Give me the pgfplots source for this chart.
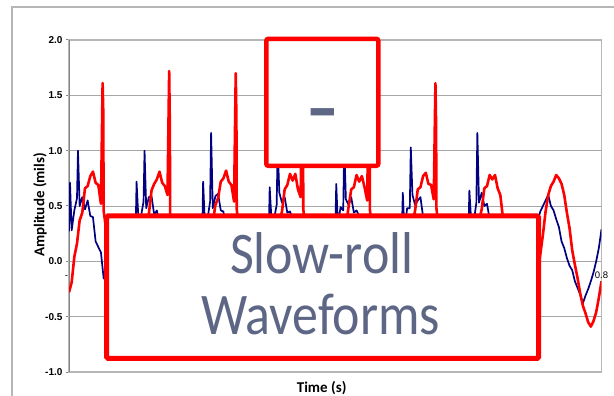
\documentclass[border=0pt]{standalone}
\usepackage{fontspec}
\setmainfont{Carlito}
\newfontfamily\tickfont{Liberation Sans}
\usepackage{pgfplots}
\pgfplotsset{compat=1.18}

\definecolor{wavered}{RGB}{255,0,0}
\definecolor{wavenavy}{RGB}{0,0,128}
\definecolor{calloutred}{RGB}{255,0,0}
\definecolor{slate}{RGB}{93,103,133}
\definecolor{gridgray}{RGB}{166,166,166}
\definecolor{framegray}{RGB}{182,182,182}
\definecolor{axisgray}{RGB}{134,134,134}

\begin{document}
\begin{tikzpicture}
\path[use as bounding box] (0bp,0bp) rectangle (614bp,396bp);
% outer chart frame (runs off the right and bottom edges)
\draw[framegray, line width=1.5bp] (12bp,-5bp) -- (12bp,389bp) -- (620bp,389bp);

\begin{axis}[
  at={(69bp,24bp)}, anchor=south west,
  scale only axis, width=532.5bp, height=332bp,
  xmin=0, xmax=0.8, ymin=-1, ymax=2,
  axis line style={framegray, line width=1.5bp},
  ymajorgrids, grid style={gridgray, line width=0.9bp},
  ytick={-1,-0.5,0,0.5,1,1.5,2},
  yticklabel style={font=\tickfont\bfseries\fontsize{10bp}{12bp}\selectfont,
    /pgf/number format/.cd, fixed, fixed zerofill, precision=1, assume math mode=true},
  xtick={0,0.8}, xticklabels={{-\hspace*{5bp}},{0.8}},
  xticklabel style={font=\tickfont\fontsize{9.5bp}{11bp}\selectfont, anchor=base, yshift=96.5bp},
  xtick style={draw=none},
  ytick style={axisgray, line width=1bp},
  tick align=outside, major tick length=3bp, ytick pos=left,
  xlabel={Time (s)}, ylabel={Amplitude (mils)},
  xlabel style={at={(axis description cs:0.4745,-0.048)}, anchor=center,
    font=\bfseries\fontsize{15bp}{15bp}\selectfont},
  ylabel style={at={(axis description cs:-0.0545,0.503)}, anchor=center,
    font=\bfseries\fontsize{15bp}{15bp}\selectfont},
]
% darker vertical axis line
\draw[axisgray, line width=1.3bp] (axis cs:0,-1) -- (axis cs:0,2);

% probe 1 (navy)
\addplot[wavenavy, line width=1.7bp, line join=round, mark=none] coordinates {
(0.000,0.27) (0.0015,0.71) (0.004,0.28) (0.008,0.46) (0.012,0.57) (0.0135,1.00) (0.016,0.50) (0.020,0.58) (0.024,0.47) (0.028,0.55) (0.032,0.41) (0.036,0.40) (0.040,0.18) (0.044,0.13) (0.048,0.08) (0.052,-0.15) (0.056,-0.18) (0.060,-0.36) (0.064,-0.33) (0.068,-0.33) (0.072,-0.46) (0.076,-0.32) (0.080,-0.31) (0.084,-0.16) (0.088,-0.16) (0.092,0.02) (0.096,0.07)
(0.100,0.24) (0.1015,0.72) (0.104,0.42) (0.108,0.40) (0.112,0.54) (0.1135,1.00) (0.116,0.48) (0.120,0.58) (0.124,0.59) (0.128,0.42) (0.132,0.46) (0.136,0.33) (0.140,0.29) (0.144,0.08) (0.148,0.02) (0.152,-0.17) (0.156,-0.18) (0.160,-0.36) (0.164,-0.32) (0.168,-0.31) (0.172,-0.42) (0.176,-0.33) (0.180,-0.37) (0.184,-0.17) (0.188,-0.14) (0.192,0.06) (0.196,0.07)
(0.200,0.19) (0.2015,0.72) (0.204,0.36) (0.208,0.38) (0.212,0.54) (0.2135,1.16) (0.216,0.48) (0.220,0.59) (0.224,0.61) (0.228,0.46) (0.232,0.45) (0.236,0.27) (0.240,0.28) (0.244,0.10) (0.248,0.06) (0.252,-0.17) (0.256,-0.21) (0.260,-0.22) (0.264,-0.38) (0.268,-0.34) (0.272,-0.44) (0.276,-0.33) (0.280,-0.25) (0.284,-0.30) (0.288,-0.09) (0.292,-0.01) (0.296,0.18)
(0.300,0.21) (0.3015,0.67) (0.304,0.40) (0.308,0.38) (0.312,0.51) (0.3135,1.05) (0.316,0.62) (0.320,0.53) (0.324,0.58) (0.328,0.44) (0.332,0.45) (0.336,0.39) (0.340,0.15) (0.344,0.15) (0.348,-0.01) (0.352,-0.06) (0.356,-0.26) (0.360,-0.28) (0.364,-0.40) (0.368,-0.34) (0.372,-0.44) (0.376,-0.32) (0.380,-0.23) (0.384,-0.26) (0.388,-0.10) (0.392,-0.07) (0.396,0.17)
(0.400,0.26) (0.4015,0.70) (0.404,0.33) (0.408,0.49) (0.412,0.46) (0.4135,1.05) (0.416,0.56) (0.420,0.51) (0.424,0.58) (0.428,0.44) (0.432,0.46) (0.436,0.41) (0.440,0.19) (0.444,0.14) (0.448,-0.07) (0.452,-0.07) (0.456,-0.24) (0.460,-0.24) (0.464,-0.40) (0.468,-0.37) (0.472,-0.30) (0.476,-0.38) (0.480,-0.26) (0.484,-0.28) (0.488,-0.10) (0.492,0.05) (0.496,0.04)
(0.500,0.25) (0.5015,0.62) (0.504,0.27) (0.508,0.48) (0.512,0.48) (0.5135,1.03) (0.516,0.60) (0.520,0.51) (0.524,0.55) (0.528,0.58) (0.532,0.40) (0.536,0.38) (0.540,0.17) (0.544,0.14) (0.548,0.05) (0.552,-0.20) (0.556,-0.19) (0.560,-0.31) (0.564,-0.29) (0.568,-0.42) (0.572,-0.36) (0.576,-0.40) (0.580,-0.26) (0.584,-0.28) (0.588,-0.09) (0.592,0.07) (0.596,0.08)
(0.600,0.25) (0.6015,0.64) (0.604,0.39) (0.608,0.35) (0.612,0.53) (0.6135,1.16) (0.616,0.53) (0.620,0.62) (0.624,0.50) (0.628,0.52) (0.632,0.38) (0.636,0.38) (0.640,0.17) (0.644,0.15) (0.648,0.07) (0.652,-0.16) (0.656,-0.20) (0.660,-0.37) (0.664,-0.30) (0.668,-0.40) (0.672,-0.32) (0.676,-0.40) (0.680,-0.29) (0.684,-0.14) (0.688,-0.15) (0.692,0.04) (0.696,0.06)
(0.700,0.22) (0.704,0.36) (0.708,0.45) (0.712,0.50) (0.716,0.55) (0.720,0.60) (0.724,0.50) (0.728,0.46) (0.732,0.38) (0.736,0.31) (0.740,0.18) (0.744,0.12) (0.748,0.03) (0.752,-0.04) (0.756,-0.08) (0.760,-0.18) (0.764,-0.24) (0.768,-0.30) (0.772,-0.38) (0.776,-0.31) (0.780,-0.25) (0.784,-0.18) (0.788,-0.10) (0.792,0.00) (0.796,0.12) (0.800,0.29)
};

% probe 2 (red)
\addplot[wavered, line width=2.6bp, line join=round, mark=none] coordinates {
(0.000,-0.28) (0.004,-0.19) (0.008,0.04) (0.012,0.16) (0.016,0.37) (0.020,0.44) (0.024,0.66) (0.028,0.68) (0.032,0.77) (0.036,0.81) (0.040,0.71) (0.044,0.69) (0.048,0.52) (0.0505,1.61) (0.0515,1.35) (0.052,0.46) (0.056,0.28) (0.060,0.09) (0.064,-0.01) (0.068,-0.24) (0.072,-0.34) (0.076,-0.43) (0.080,-0.57) (0.084,-0.55) (0.088,-0.57) (0.092,-0.46) (0.096,-0.44)
(0.100,-0.32) (0.104,-0.15) (0.108,0.04) (0.112,0.14) (0.116,0.36) (0.120,0.43) (0.124,0.64) (0.128,0.70) (0.132,0.74) (0.136,0.81) (0.140,0.71) (0.144,0.68) (0.148,0.60) (0.1505,1.72) (0.1515,1.23) (0.152,0.39) (0.156,0.30) (0.160,0.10) (0.164,0.00) (0.168,-0.23) (0.172,-0.33) (0.176,-0.49) (0.180,-0.49) (0.184,-0.58) (0.188,-0.53) (0.192,-0.55) (0.196,-0.37)
(0.200,-0.30) (0.204,-0.18) (0.208,0.04) (0.212,0.14) (0.216,0.35) (0.220,0.51) (0.224,0.57) (0.228,0.72) (0.232,0.75) (0.236,0.82) (0.240,0.72) (0.244,0.69) (0.248,0.54) (0.2505,1.70) (0.2515,1.30) (0.252,0.47) (0.256,0.27) (0.260,0.14) (0.264,-0.09) (0.268,-0.16) (0.272,-0.37) (0.276,-0.45) (0.280,-0.49) (0.284,-0.60) (0.288,-0.54) (0.292,-0.56) (0.296,-0.39)
(0.300,-0.28) (0.304,-0.17) (0.308,0.05) (0.312,0.15) (0.316,0.36) (0.320,0.45) (0.324,0.65) (0.328,0.69) (0.332,0.79) (0.336,0.73) (0.340,0.79) (0.344,0.65) (0.348,0.58) (0.3505,1.65) (0.3515,1.28) (0.352,0.47) (0.356,0.25) (0.360,0.13) (0.364,-0.10) (0.368,-0.18) (0.372,-0.35) (0.376,-0.48) (0.380,-0.49) (0.384,-0.60) (0.388,-0.55) (0.392,-0.48) (0.396,-0.46)
(0.400,-0.31) (0.404,-0.13) (0.408,-0.04) (0.412,0.22) (0.416,0.32) (0.420,0.49) (0.424,0.65) (0.428,0.67) (0.432,0.78) (0.436,0.72) (0.440,0.77) (0.444,0.67) (0.448,0.55) (0.4505,1.68) (0.4515,1.25) (0.452,0.47) (0.456,0.25) (0.460,0.12) (0.464,-0.02) (0.468,-0.25) (0.472,-0.33) (0.476,-0.47) (0.480,-0.48) (0.484,-0.59) (0.488,-0.54) (0.492,-0.54) (0.496,-0.38)
(0.500,-0.33) (0.504,-0.14) (0.508,-0.05) (0.512,0.20) (0.516,0.34) (0.520,0.46) (0.524,0.65) (0.528,0.67) (0.532,0.77) (0.536,0.80) (0.540,0.70) (0.544,0.69) (0.548,0.56) (0.5505,1.61) (0.5515,1.23) (0.552,0.48) (0.556,0.26) (0.560,0.13) (0.564,-0.08) (0.568,-0.17) (0.572,-0.36) (0.576,-0.43) (0.580,-0.57) (0.584,-0.52) (0.588,-0.58) (0.592,-0.50) (0.596,-0.38)
(0.600,-0.33) (0.604,-0.15) (0.608,0.03) (0.612,0.13) (0.616,0.36) (0.620,0.47) (0.624,0.66) (0.628,0.68) (0.632,0.78) (0.636,0.74) (0.640,0.78) (0.644,0.66) (0.648,0.60) (0.652,0.39) (0.656,0.33) (0.660,0.09) (0.664,-0.04) (0.668,-0.17) (0.672,-0.38) (0.676,-0.44) (0.680,-0.58) (0.684,-0.54) (0.688,-0.56) (0.692,-0.53) (0.696,-0.38)
(0.700,-0.30) (0.704,-0.12) (0.708,0.06) (0.712,0.24) (0.716,0.45) (0.720,0.60) (0.724,0.68) (0.728,0.72) (0.732,0.78) (0.736,0.75) (0.740,0.70) (0.744,0.60) (0.748,0.44) (0.752,0.30) (0.756,0.10) (0.760,-0.03) (0.764,-0.15) (0.768,-0.29) (0.772,-0.40) (0.776,-0.47) (0.780,-0.55) (0.784,-0.59) (0.788,-0.54) (0.792,-0.46) (0.796,-0.33) (0.800,-0.18)
};
\end{axis}

% callout boxes drawn over the chart
\draw[calloutred, line width=5bp, fill=white, rounded corners=1.5bp]
  (106.7bp,37.5bp) rectangle (538.5bp,180bp);
\draw[calloutred, line width=4.5bp, fill=white, rounded corners=2bp]
  (266.3bp,230.2bp) rectangle (378.3bp,357.2bp);

\node[slate, font=\fontsize{100bp}{100bp}\selectfont, anchor=base, inner sep=0pt]
  at (323bp,255bp) {-};
\node[slate, font=\fontsize{59bp}{59bp}\selectfont, anchor=base, inner sep=0pt, xscale=0.88]
  at (321.7bp,122.7bp) {Slow-roll};
\node[slate, font=\fontsize{59bp}{59bp}\selectfont, anchor=base, inner sep=0pt, xscale=0.88]
  at (320.8bp,61bp) {Waveforms};
\end{tikzpicture}
\end{document}
